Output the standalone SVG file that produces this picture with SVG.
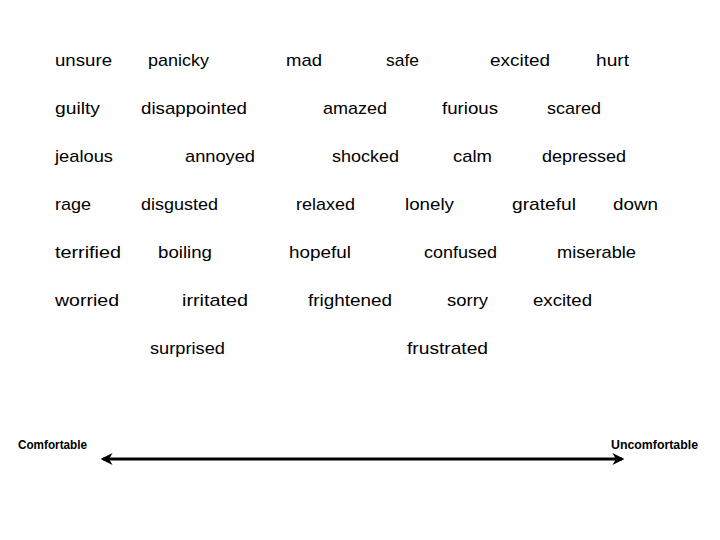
<svg xmlns="http://www.w3.org/2000/svg" width="720" height="540" viewBox="0 0 720 540">
<style>
.w{font-family:"Liberation Sans","Noto Sans",sans-serif;font-size:17px;fill:#000}
.b{font-family:"Liberation Sans","Noto Sans",sans-serif;font-size:12px;font-weight:bold;fill:#000}
</style>
<defs>
<marker id="ah" viewBox="0 0 10 10" refX="8" refY="5" markerWidth="4" markerHeight="4" orient="auto-start-reverse" markerUnits="strokeWidth">
<path d="M0,0 L10,5 L0,10 L3,5 Z" fill="#000"/>
</marker>
</defs>
<rect width="720" height="540" fill="#fff"/>
<g id="words">
<text class="w" x="55" y="66" textLength="57" lengthAdjust="spacingAndGlyphs">unsure</text>
<text class="w" x="148" y="66" textLength="61" lengthAdjust="spacingAndGlyphs">panicky</text>
<text class="w" x="286" y="66" textLength="36" lengthAdjust="spacingAndGlyphs">mad</text>
<text class="w" x="386" y="66" textLength="33" lengthAdjust="spacingAndGlyphs">safe</text>
<text class="w" x="490" y="66" textLength="60" lengthAdjust="spacingAndGlyphs">excited</text>
<text class="w" x="596" y="66" textLength="33" lengthAdjust="spacingAndGlyphs">hurt</text>

<text class="w" x="55" y="114" textLength="45" lengthAdjust="spacingAndGlyphs">guilty</text>
<text class="w" x="141" y="114" textLength="106" lengthAdjust="spacingAndGlyphs">disappointed</text>
<text class="w" x="323" y="114" textLength="64" lengthAdjust="spacingAndGlyphs">amazed</text>
<text class="w" x="442" y="114" textLength="56" lengthAdjust="spacingAndGlyphs">furious</text>
<text class="w" x="547" y="114" textLength="54" lengthAdjust="spacingAndGlyphs">scared</text>

<text class="w" x="55" y="162" textLength="58" lengthAdjust="spacingAndGlyphs">jealous</text>
<text class="w" x="185" y="162" textLength="70" lengthAdjust="spacingAndGlyphs">annoyed</text>
<text class="w" x="332" y="162" textLength="67" lengthAdjust="spacingAndGlyphs">shocked</text>
<text class="w" x="453" y="162" textLength="39" lengthAdjust="spacingAndGlyphs">calm</text>
<text class="w" x="542" y="162" textLength="84" lengthAdjust="spacingAndGlyphs">depressed</text>

<text class="w" x="55" y="210" textLength="36" lengthAdjust="spacingAndGlyphs">rage</text>
<text class="w" x="141" y="210" textLength="77" lengthAdjust="spacingAndGlyphs">disgusted</text>
<text class="w" x="296" y="210" textLength="59" lengthAdjust="spacingAndGlyphs">relaxed</text>
<text class="w" x="405" y="210" textLength="49" lengthAdjust="spacingAndGlyphs">lonely</text>
<text class="w" x="512" y="210" textLength="64" lengthAdjust="spacingAndGlyphs">grateful</text>
<text class="w" x="613" y="210" textLength="45" lengthAdjust="spacingAndGlyphs">down</text>

<text class="w" x="55" y="258" textLength="66" lengthAdjust="spacingAndGlyphs">terrified</text>
<text class="w" x="158" y="258" textLength="54" lengthAdjust="spacingAndGlyphs">boiling</text>
<text class="w" x="289" y="258" textLength="62" lengthAdjust="spacingAndGlyphs">hopeful</text>
<text class="w" x="424" y="258" textLength="73" lengthAdjust="spacingAndGlyphs">confused</text>
<text class="w" x="557" y="258" textLength="79" lengthAdjust="spacingAndGlyphs">miserable</text>

<text class="w" x="55" y="306" textLength="64" lengthAdjust="spacingAndGlyphs">worried</text>
<text class="w" x="182" y="306" textLength="66" lengthAdjust="spacingAndGlyphs">irritated</text>
<text class="w" x="308" y="306" textLength="84" lengthAdjust="spacingAndGlyphs">frightened</text>
<text class="w" x="447" y="306" textLength="41" lengthAdjust="spacingAndGlyphs">sorry</text>
<text class="w" x="533" y="306" textLength="59" lengthAdjust="spacingAndGlyphs">excited</text>

<text class="w" x="150" y="354" textLength="75" lengthAdjust="spacingAndGlyphs">surprised</text>
<text class="w" x="407" y="354" textLength="81" lengthAdjust="spacingAndGlyphs">frustrated</text>
</g>
<g id="labels">
<text class="b" x="18" y="449" textLength="69" lengthAdjust="spacingAndGlyphs">Comfortable</text>
<text class="b" x="611" y="449" textLength="87" lengthAdjust="spacingAndGlyphs">Uncomfortable</text>
</g>
<g id="connectors">
<line x1="103" y1="459" x2="622" y2="459" stroke="#000" stroke-width="3" marker-start="url(#ah)" marker-end="url(#ah)"/>
</g>
</svg>
